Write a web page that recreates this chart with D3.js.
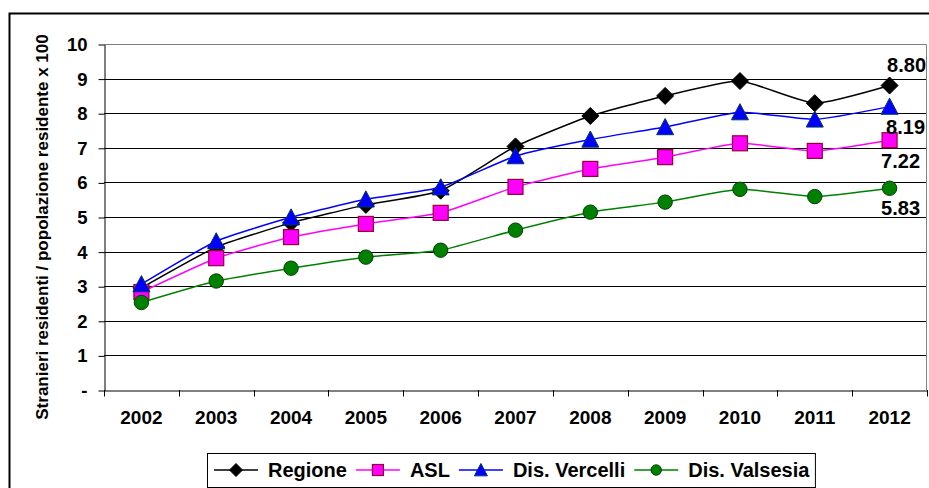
<!DOCTYPE html>
<html>
<head>
<meta charset="utf-8">
<script src="https://cdn.jsdelivr.net/npm/d3@7"></script>
<style>
  html, body { margin: 0; padding: 0; background: #fff; }
  svg { display: block; }
  text { font-family: "Liberation Sans", Arial, sans-serif; font-weight: bold; fill: #000; }
</style>
</head>
<body>
<svg id="chart" width="929" height="488"></svg>
<script>
// ---- data ----
const years = ["2002","2003","2004","2005","2006","2007","2008","2009","2010","2011","2012"];
const regione  = [2.95, 4.13, 4.83, 5.35, 5.76, 7.04, 7.92, 8.50, 8.93, 8.29, 8.80];
const asl      = [2.83, 3.81, 4.42, 4.80, 5.12, 5.87, 6.39, 6.73, 7.13, 6.91, 7.22];
const vercelli = [3.06, 4.30, 4.99, 5.51, 5.86, 6.76, 7.24, 7.60, 8.03, 7.82, 8.19];
const valsesia = [2.53, 3.15, 3.52, 3.84, 4.04, 4.62, 5.14, 5.43, 5.80, 5.59, 5.83];
const seriesNames = ["Regione", "ASL", "Dis. Vercelli", "Dis. Valsesia"];
const yTicks = [0, 1, 2, 3, 4, 5, 6, 7, 8, 9, 10];
const yTickLabels = ["-", "1", "2", "3", "4", "5", "6", "7", "8", "9", "10"];
const yTitle = "Stranieri residenti / popolazione residente x 100";

// ---- styles ----
const styles = [
  { color: "#000000", shape: "diamond",  fill: "#000000", stroke: "#000000", size: 8.5, lsize: 6.5, lab: { dx: 17, dy: -21 } },
  { color: "#FF00FF", shape: "square",   fill: "#FF00FF", stroke: "#990033", size: 7.5, lsize: 5.5, lab: { dx: 11, dy: 21 } },
  { color: "#0000FF", shape: "triangle", fill: "#0000FF", stroke: "#003366", size: 8.5, lsize: 6.5, lab: { dx: 16, dy: 20 } },
  { color: "#008000", shape: "circle",   fill: "#008000", stroke: "#004000", size: 7.2, lsize: 5.2, lab: { dx: 11, dy: 20 } }
];
const allSeries = [regione, asl, vercelli, valsesia];

const svg = d3.select("#chart");

// outer chart border
svg.append("rect").attr("x", 9.5).attr("y", 13.5).attr("width", 1000).attr("height", 600)
  .attr("fill", "none").attr("stroke", "#000").attr("stroke-width", 2);

const pLeft = 104, pRight = 927, pTop = 44, pBottom = 390;
const x = d3.scaleBand().domain(years).range([pLeft, pRight]);
const y = d3.scaleLinear().domain([0, 10]).range([pBottom, pTop]);

// gridlines
svg.append("g")
  .selectAll("line").data(yTicks.filter(d => d > 0 && d < 10)).join("line")
  .attr("x1", pLeft).attr("x2", pRight)
  .attr("y1", d => Math.round(y(d)) + 0.5).attr("y2", d => Math.round(y(d)) + 0.5)
  .attr("stroke", "#000").attr("stroke-width", 1);

// plot area border (top & right, gray)
svg.append("path")
  .attr("d", `M${pLeft},${Math.round(pTop) + 0.5}H${pRight - 0.5}V${pBottom}`)
  .attr("fill", "none").attr("stroke", "#808080").attr("stroke-width", 1);

// y axis
const yAxis = svg.append("g").attr("transform", `translate(${pLeft + 0.5},0.5)`)
  .call(d3.axisLeft(y).tickValues(yTicks).tickSize(6).tickSizeOuter(0).tickPadding(11)
    .tickFormat((d, i) => yTickLabels[i]));
yAxis.select(".domain").attr("stroke", "#000");
yAxis.selectAll(".tick line").attr("stroke", "#000");
yAxis.selectAll(".tick text").attr("font-family", null).attr("font-size", 18.5).attr("fill", "#000");
yAxis.attr("font-family", null).attr("font-size", null);

// x axis
const xAxis = svg.append("g").attr("transform", `translate(0,${pBottom + 0.5})`)
  .call(d3.axisBottom(x).tickSize(0).tickSizeOuter(0).tickPadding(20));
xAxis.select(".domain").attr("stroke", "#000");
xAxis.selectAll(".tick text").attr("font-family", null).attr("font-size", 19).attr("fill", "#000");
xAxis.attr("font-family", null).attr("font-size", null);
// tick marks between categories
const bounds = years.map(d => x(d)).concat([x.range()[1]]);
svg.append("g").selectAll("line").data(bounds).join("line")
  .attr("x1", d => Math.round(d) + 0.5).attr("x2", d => Math.round(d) + 0.5)
  .attr("y1", pBottom).attr("y2", pBottom + 6.5)
  .attr("stroke", "#000");

// y title
svg.append("text")
  .attr("transform", `translate(42,227) rotate(-90)`)
  .attr("text-anchor", "middle").attr("dominant-baseline", "central")
  .attr("font-size", 17).text(yTitle);

// marker helper
function marker(sel, shape, r, fill, stroke) {
  if (shape === "circle") {
    sel.append("circle").attr("r", r).attr("fill", fill).attr("stroke", stroke).attr("stroke-width", 1);
  } else if (shape === "square") {
    sel.append("rect").attr("x", -r).attr("y", -r).attr("width", 2 * r).attr("height", 2 * r)
      .attr("fill", fill).attr("stroke", stroke).attr("stroke-width", 1.2);
  } else if (shape === "diamond") {
    sel.append("path").attr("d", `M0,${-r}L${r},0L0,${r}L${-r},0Z`).attr("fill", fill).attr("stroke", stroke);
  } else if (shape === "triangle") {
    sel.append("path").attr("d", `M0,${-r}L${r},${r * 0.9}L${-r},${r * 0.9}Z`).attr("fill", fill).attr("stroke", stroke).attr("stroke-width", 1);
  }
}

const line = d3.line().x((d, i) => x(years[i]) + x.bandwidth() / 2).y(d => y(d))
  .curve(d3.curveCardinal.tension(0.5));

allSeries.forEach((vals, si) => {
  const st = styles[si];
  const g = svg.append("g");
  g.append("path").attr("d", line(vals)).attr("fill", "none")
    .attr("stroke", st.color).attr("stroke-width", 1.5);
  vals.forEach((v, i) => {
    const m = g.append("g").attr("transform", `translate(${x(years[i]) + x.bandwidth() / 2},${y(v)})`);
    marker(m, st.shape, st.size, st.fill, st.stroke);
  });
});

// data labels for last point
allSeries.forEach((vals, si) => {
  const st = styles[si];
  const i = vals.length - 1;
  svg.append("text")
    .attr("x", x(years[i]) + x.bandwidth() / 2 + st.lab.dx)
    .attr("y", y(vals[i]) + st.lab.dy)
    .attr("text-anchor", "middle").attr("dominant-baseline", "central")
    .attr("font-size", 20).text(vals[i].toFixed(2));
});

// legend
const leg = svg.append("g");
const legBox = leg.append("rect").attr("y", 453.5).attr("height", 34).attr("x", 207.5)
  .attr("fill", "#fff").attr("stroke", "#000").attr("stroke-width", 1);
let cx = 214;
const ly = 470;
seriesNames.forEach((name, si) => {
  const st = styles[si];
  leg.append("line").attr("x1", cx).attr("x2", cx + 44).attr("y1", ly).attr("y2", ly)
    .attr("stroke", st.color).attr("stroke-width", 1.5);
  const m = leg.append("g").attr("transform", `translate(${cx + 22},${ly})`);
  marker(m, st.shape, st.lsize, st.fill, st.stroke);
  const t = leg.append("text").attr("x", cx + 54).attr("y", ly)
    .attr("dominant-baseline", "central").attr("font-size", 20).text(name);
  cx = cx + 54 + t.node().getComputedTextLength() + 9;
});
legBox.attr("width", cx - 3 - 207.5);
</script>
</body>
</html>
